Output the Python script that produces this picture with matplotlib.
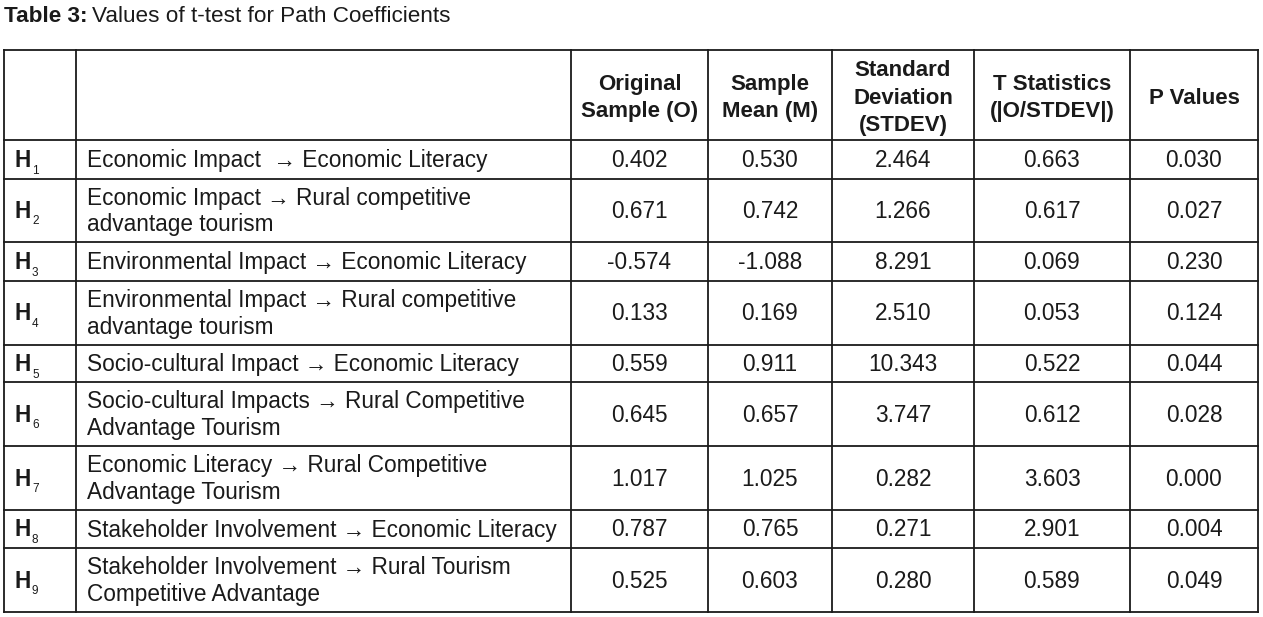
import matplotlib
matplotlib.use("Agg")

import matplotlib.pyplot as plt

# table content
hypotheses = ["1", "2", "3", "4", "5", "6", "7", "8", "9"]

paths = [
    "Economic Impact  \u2192 Economic Literacy",
    "Economic Impact \u2192 Rural competitive\nadvantage tourism",
    "Environmental Impact \u2192 Economic Literacy",
    "Environmental Impact \u2192 Rural competitive\nadvantage tourism",
    "Socio-cultural Impact \u2192 Economic Literacy",
    "Socio-cultural Impacts \u2192 Rural Competitive\nAdvantage Tourism",
    "Economic Literacy \u2192 Rural Competitive\nAdvantage Tourism",
    "Stakeholder Involvement \u2192 Economic Literacy",
    "Stakeholder Involvement \u2192 Rural Tourism\nCompetitive Advantage",
]

original_sample = [0.402, 0.671, -0.574, 0.133, 0.559, 0.645, 1.017, 0.787, 0.525]
sample_mean = [0.530, 0.742, -1.088, 0.169, 0.911, 0.657, 1.025, 0.765, 0.603]
std_dev = [2.464, 1.266, 8.291, 2.510, 10.343, 3.747, 0.282, 0.271, 0.280]
t_stats = [0.663, 0.617, 0.069, 0.053, 0.522, 0.612, 3.603, 2.901, 0.589]
p_values = [0.030, 0.027, 0.230, 0.124, 0.044, 0.028, 0.000, 0.004, 0.049]

headers = [
    "Original\nSample (O)",
    "Sample\nMean (M)",
    "Standard\nDeviation\n(STDEV)",
    "T Statistics\n(|O/STDEV|)",
    "P Values",
]

# layout in pixels
col_edges = [4, 76, 571, 708, 832, 974, 1130, 1258]
row_edges = [50, 140, 179, 242, 281, 345, 382, 446, 510, 548, 612]

plt.rcParams["font.family"] = ["Liberation Sans", "DejaVu Sans"]

figure = plt.figure(figsize=(12.63, 6.17), dpi=100)
axes = figure.add_axes([0, 0, 1, 1])
axes.set_xlim(0, 1263)
axes.set_ylim(617, 0)
axes.axis("off")

line_color = "#1a1a1a"
text_color = "#1a1a1a"
body_size = 16.3

# title
title_bold = axes.text(4, 16, "Table 3:", fontsize=16.2, fontweight="bold",
                       va="center", ha="left", color=text_color)
figure.canvas.draw()
bb = title_bold.get_window_extent()
axes.text(bb.x1 + 5, 16, "Values of t-test for Path Coefficients",
          fontsize=16.2, va="center", ha="left", color=text_color)

# grid lines
for x in col_edges:
    axes.plot([x, x], [row_edges[0], row_edges[-1]], color=line_color, lw=1.3)
for y in row_edges:
    axes.plot([col_edges[0], col_edges[-1]], [y, y], color=line_color, lw=1.3)

# header
header_mid = (row_edges[0] + row_edges[1]) / 2
for i, label in enumerate(headers):
    cx = (col_edges[i + 2] + col_edges[i + 3]) / 2
    axes.text(cx, header_mid + 3, label, fontsize=16, fontweight="bold",
              ha="center", va="center", linespacing=1.42, color=text_color)

# rows
for r in range(len(paths)):
    cy = (row_edges[r + 1] + row_edges[r + 2]) / 2 + 1
    axes.text(15, cy, "H", fontsize=body_size, fontweight="bold",
              ha="left", va="center", color=text_color)
    axes.text(32, cy + 10, hypotheses[r], fontsize=8.5,
              ha="left", va="center", color=text_color)
    axes.text(87, cy, paths[r], fontsize=body_size, ha="left", va="center",
              linespacing=1.2, color=text_color)
    values = [original_sample[r], sample_mean[r], std_dev[r],
              t_stats[r], p_values[r]]
    for i, v in enumerate(values):
        cx = (col_edges[i + 2] + col_edges[i + 3]) / 2
        axes.text(cx, cy, "{:.3f}".format(v), fontsize=body_size,
                  ha="center", va="center", color=text_color)

figure.savefig("out.png", dpi=100)
